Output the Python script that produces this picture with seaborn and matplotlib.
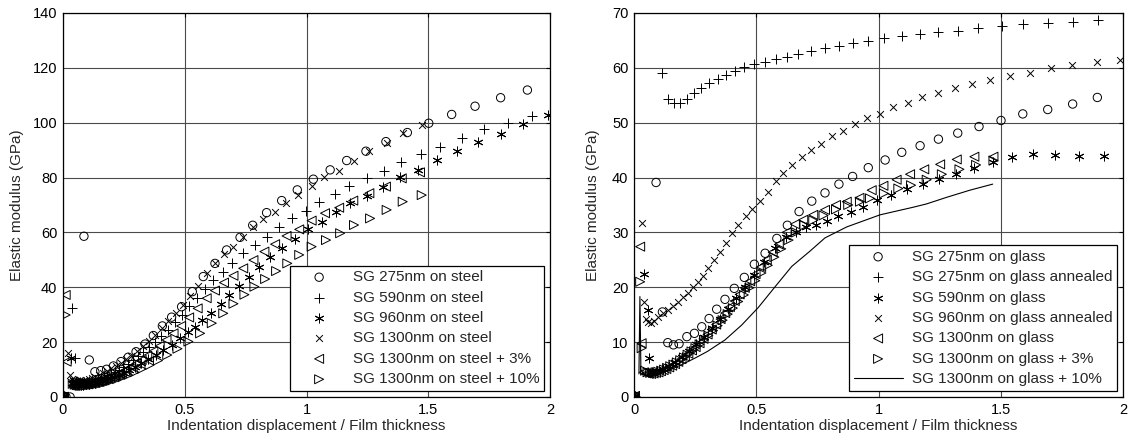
import matplotlib
matplotlib.use("Agg")
import matplotlib.pyplot as plt
import seaborn as sns

# ---------------- steel substrates (left panel) ----------------
x275s = [0.000, 0.004, 0.012, 0.029, 0.086, 0.108, 0.131, 0.155, 0.179, 0.207, 0.238, 0.268, 0.300, 0.337,
         0.371, 0.408, 0.446, 0.487, 0.531, 0.576, 0.624, 0.672, 0.727, 0.779, 0.836, 0.898, 0.962, 1.028,
         1.097, 1.165, 1.244, 1.326, 1.414, 1.502, 1.596, 1.692, 1.797, 1.907]
y275s = [0.0, 0.3, 0.1, 0.0, 58.6, 13.5, 9.2, 9.6, 10.1, 11.3, 12.9, 14.5, 16.5, 19.3,
         22.4, 25.9, 29.1, 32.9, 38.4, 43.9, 48.7, 53.6, 58.2, 62.6, 67.2, 71.6, 75.5, 79.4,
         82.8, 86.2, 89.6, 93.1, 96.4, 99.8, 103.0, 106.0, 109.1, 111.9]

x590s = [0.000, 0.006, 0.038, 0.049, 0.055, 0.062, 0.070, 0.079, 0.088, 0.098, 0.108, 0.119, 0.130, 0.142,
         0.155, 0.168, 0.182, 0.197, 0.213, 0.230, 0.248, 0.267, 0.287, 0.308, 0.330, 0.353, 0.378, 0.404,
         0.431, 0.459, 0.488, 0.518, 0.550, 0.583, 0.617, 0.658, 0.695, 0.740, 0.789, 0.836, 0.888, 0.940,
         0.998, 1.051, 1.117, 1.175, 1.247, 1.318, 1.388, 1.469, 1.548, 1.640, 1.730, 1.829, 1.925]
y590s = [0.0, 0.1, 32.6, 14.1, 6.0, 5.5, 5.3, 5.3, 5.4, 5.6, 5.8, 6.0, 6.3, 6.6,
         7.0, 7.4, 7.9, 8.5, 9.2, 10.0, 11.0, 12.1, 13.4, 14.8, 16.4, 18.1, 20.1, 22.3,
         24.6, 27.2, 30.0, 33.0, 36.2, 39.4, 42.7, 45.7, 49.0, 52.6, 55.3, 58.4, 61.9, 65.1,
         67.8, 71.2, 74.1, 76.9, 80.0, 82.4, 85.7, 88.6, 91.3, 94.5, 97.6, 99.8, 102.4]

x960s = [0.000, 0.005, 0.032, 0.037, 0.043, 0.050, 0.058, 0.066, 0.075, 0.084, 0.094, 0.105, 0.117, 0.130,
         0.144, 0.159, 0.175, 0.192, 0.210, 0.229, 0.250, 0.272, 0.296, 0.322, 0.350, 0.380, 0.412, 0.446,
         0.480, 0.515, 0.542, 0.570, 0.608, 0.648, 0.683, 0.724, 0.765, 0.806, 0.850, 0.898, 0.953, 1.005,
         1.062, 1.120, 1.179, 1.247, 1.315, 1.384, 1.459, 1.537, 1.619, 1.703, 1.797, 1.890, 1.993]
y960s = [0.0, 0.2, 14.1, 5.0, 4.7, 4.5, 4.4, 4.4, 4.4, 4.5, 4.6, 4.8, 5.0, 5.2,
         5.5, 5.9, 6.3, 6.8, 7.4, 8.1, 8.9, 9.9, 11.0, 12.3, 13.7, 15.3, 17.1, 19.0,
         21.4, 23.6, 25.6, 28.1, 30.5, 33.9, 37.2, 40.5, 43.6, 47.5, 51.1, 54.2, 57.5, 61.1,
         63.9, 67.4, 70.6, 73.3, 76.7, 80.3, 82.8, 86.4, 89.7, 93.1, 95.9, 99.5, 102.8]

x1300s = [0.000, 0.005, 0.022, 0.030, 0.036, 0.042, 0.048, 0.055, 0.063, 0.072, 0.082, 0.093, 0.105, 0.118,
          0.132, 0.147, 0.163, 0.180, 0.198, 0.217, 0.237, 0.258, 0.280, 0.303, 0.327, 0.352, 0.378, 0.405,
          0.433, 0.462, 0.492, 0.522, 0.555, 0.590, 0.624, 0.661, 0.700, 0.741, 0.782, 0.823, 0.871, 0.916,
          0.966, 1.021, 1.073, 1.135, 1.195, 1.258, 1.332, 1.395, 1.473]
y1300s = [0.0, 0.2, 15.9, 8.0, 6.6, 6.0, 5.7, 5.6, 5.6, 5.7, 5.9, 6.1, 6.5, 6.9,
          7.4, 8.0, 8.7, 9.5, 10.4, 11.4, 12.5, 13.7, 15.1, 16.7, 18.5, 20.5, 22.7, 25.1,
          27.7, 30.5, 33.5, 36.9, 40.6, 45.1, 48.7, 52.1, 54.8, 58.3, 61.9, 64.8, 67.6, 70.8,
          73.6, 76.9, 80.1, 82.5, 86.2, 89.6, 92.7, 96.1, 99.2]

x1300s3 = [0.000, 0.004, 0.011, 0.015, 0.042, 0.050, 0.058, 0.066, 0.074, 0.083, 0.092, 0.101, 0.111, 0.121,
           0.132, 0.143, 0.155, 0.168, 0.181, 0.195, 0.210, 0.226, 0.243, 0.261, 0.280, 0.301, 0.323, 0.346,
           0.371, 0.397, 0.425, 0.454, 0.485, 0.518, 0.553, 0.590, 0.624, 0.661, 0.700, 0.740, 0.782, 0.827,
           0.871, 0.918, 0.970, 1.021, 1.076, 1.134, 1.192, 1.258, 1.326, 1.391, 1.466]
y1300s3 = [0.0, 0.1, 37.2, 12.9, 5.6, 5.2, 5.0, 4.9, 4.8, 4.8, 4.9, 5.0, 5.1, 5.3,
           5.5, 5.7, 6.0, 6.4, 6.8, 7.2, 7.8, 8.4, 9.1, 10.0, 11.0, 12.2, 13.5, 15.0,
           16.7, 18.6, 20.8, 23.2, 25.9, 29.0, 32.3, 36.0, 38.8, 41.7, 44.2, 46.9, 49.9, 53.0,
           55.7, 58.7, 61.1, 64.3, 67.0, 69.0, 71.6, 74.3, 76.7, 79.7, 81.9]

x1300s10 = [0.000, 0.003, 0.011, 0.040, 0.048, 0.056, 0.064, 0.073, 0.082, 0.092, 0.102, 0.113, 0.125, 0.138,
            0.152, 0.167, 0.184, 0.202, 0.222, 0.244, 0.268, 0.294, 0.323, 0.355, 0.390, 0.428, 0.470, 0.515,
            0.563, 0.611, 0.658, 0.700, 0.745, 0.786, 0.830, 0.875, 0.921, 0.970, 1.021, 1.080, 1.138, 1.195,
            1.261, 1.329, 1.395, 1.473]
y1300s10 = [0.0, 0.2, 29.9, 4.8, 4.5, 4.3, 4.2, 4.1, 4.1, 4.1, 4.2, 4.3, 4.4, 4.6,
            4.8, 5.1, 5.5, 6.0, 6.5, 7.2, 8.0, 9.0, 10.2, 11.6, 13.3, 15.3, 17.6, 20.2,
            23.2, 26.9, 30.5, 34.0, 37.3, 40.2, 43.0, 45.9, 48.7, 51.8, 54.8, 57.2, 59.7, 62.7,
            65.1, 68.2, 71.2, 73.6]

# ---------------- glass substrates (right panel) ----------------
x275g = [0.000, 0.005, 0.090, 0.116, 0.138, 0.161, 0.184, 0.216, 0.247, 0.277, 0.307, 0.338, 0.372, 0.410,
         0.451, 0.492, 0.536, 0.584, 0.627, 0.675, 0.727, 0.781, 0.838, 0.894, 0.958, 1.027, 1.095, 1.170,
         1.245, 1.324, 1.411, 1.501, 1.590, 1.692, 1.794, 1.895]
y275g = [0.0, 0.1, 39.1, 15.5, 9.9, 9.5, 9.7, 11.0, 11.6, 12.8, 14.3, 16.0, 17.8, 19.8,
         21.8, 24.2, 26.2, 28.9, 31.3, 33.8, 35.7, 37.2, 38.8, 40.2, 41.8, 43.2, 44.6, 45.8,
         47.0, 48.1, 49.3, 50.4, 51.6, 52.4, 53.4, 54.6]

x275ga = [0.000, 0.004, 0.113, 0.138, 0.165, 0.188, 0.216, 0.247, 0.274, 0.307, 0.342, 0.376, 0.413, 0.451,
          0.492, 0.536, 0.580, 0.627, 0.672, 0.724, 0.781, 0.838, 0.897, 0.957, 1.022, 1.095, 1.170, 1.245,
          1.324, 1.408, 1.504, 1.592, 1.692, 1.794, 1.897]
y275ga = [0.0, 0.2, 59.1, 54.3, 53.5, 53.6, 54.3, 55.4, 56.3, 57.3, 57.9, 58.7, 59.4, 60.1,
          60.7, 61.1, 61.6, 62.0, 62.5, 63.1, 63.6, 63.9, 64.5, 64.9, 65.4, 65.8, 66.2, 66.5,
          66.8, 67.2, 67.6, 67.9, 68.2, 68.4, 68.7]

x590g = [0.000, 0.005, 0.042, 0.056, 0.063, 0.075, 0.095, 0.118, 0.142, 0.168, 0.195, 0.224, 0.254, 0.285,
         0.317, 0.350, 0.384, 0.419, 0.455, 0.492, 0.530, 0.575, 0.621, 0.663, 0.703, 0.744, 0.791, 0.836,
         0.886, 0.938, 0.993, 1.050, 1.115, 1.181, 1.247, 1.317, 1.391, 1.470, 1.547, 1.633, 1.722, 1.820,
         1.924]
y590g = [0.0, 0.2, 22.4, 15.9, 7.1, 4.6, 4.7, 5.1, 5.6, 6.3, 7.3, 8.4, 9.6, 11.0,
         12.6, 14.3, 16.1, 18.0, 20.1, 22.2, 24.6, 27.2, 29.1, 30.1, 30.9, 31.4, 32.1, 33.0,
         33.8, 34.7, 35.9, 36.8, 38.0, 38.9, 39.7, 40.6, 41.7, 42.9, 43.7, 44.3, 44.1, 43.9,
         43.9]

x960ga = [0.000, 0.004, 0.034, 0.042, 0.048, 0.058, 0.070, 0.083, 0.099, 0.120, 0.140, 0.161, 0.181, 0.202,
          0.222, 0.243, 0.263, 0.283, 0.304, 0.329, 0.352, 0.376, 0.400, 0.427, 0.457, 0.484, 0.515, 0.547,
          0.580, 0.611, 0.645, 0.685, 0.725, 0.765, 0.809, 0.856, 0.904, 0.952, 1.004, 1.061, 1.119, 1.179,
          1.245, 1.313, 1.384, 1.456, 1.538, 1.620, 1.704, 1.793, 1.892, 1.988]
y960ga = [0.0, 0.1, 31.8, 17.4, 14.3, 13.7, 13.5, 13.9, 14.5, 15.3, 15.9, 16.6, 17.4, 18.2,
          19.0, 20.0, 21.0, 22.1, 23.5, 25.0, 26.5, 28.1, 29.8, 31.4, 32.9, 34.3, 35.8, 37.4,
          39.3, 40.8, 42.2, 43.7, 45.0, 46.2, 47.5, 48.5, 49.8, 50.8, 51.6, 52.8, 53.6, 54.6,
          55.4, 56.3, 57.1, 57.7, 58.5, 59.1, 59.9, 60.5, 61.1, 61.5]

x1300g = [0.000, 0.004, 0.025, 0.031, 0.040, 0.050, 0.060, 0.070, 0.080, 0.090, 0.100, 0.110, 0.121, 0.132,
          0.144, 0.156, 0.168, 0.181, 0.194, 0.208, 0.222, 0.237, 0.252, 0.268, 0.284, 0.301, 0.318, 0.336,
          0.354, 0.373, 0.392, 0.412, 0.432, 0.453, 0.475, 0.497, 0.520, 0.543, 0.567, 0.592, 0.624, 0.658,
          0.692, 0.733, 0.781, 0.826, 0.870, 0.922, 0.972, 1.020, 1.074, 1.129, 1.187, 1.252, 1.320, 1.392,
          1.470]
y1300g = [0.0, 0.2, 27.4, 9.8, 4.5, 4.3, 4.2, 4.2, 4.3, 4.4, 4.5, 4.7, 4.9, 5.1,
          5.4, 5.7, 6.0, 6.4, 6.9, 7.4, 7.9, 8.5, 9.1, 9.8, 10.6, 11.4, 12.3, 13.2,
          14.2, 15.3, 16.4, 17.5, 18.7, 19.9, 21.1, 22.4, 23.7, 25.0, 26.4, 27.8, 30.0, 31.5,
          32.3, 33.2, 34.1, 35.0, 35.6, 36.3, 37.7, 38.5, 39.6, 40.6, 41.5, 42.4, 43.3, 43.8,
          43.8]

x1300g3 = [0.000, 0.004, 0.025, 0.031, 0.045, 0.055, 0.066, 0.077, 0.088, 0.099, 0.111, 0.123, 0.135, 0.148,
           0.161, 0.175, 0.189, 0.204, 0.219, 0.235, 0.251, 0.268, 0.286, 0.304, 0.323, 0.342, 0.362, 0.383,
           0.404, 0.426, 0.449, 0.472, 0.496, 0.521, 0.547, 0.574, 0.602, 0.632, 0.663, 0.697, 0.733, 0.775,
           0.826, 0.876, 0.924, 0.965, 1.022, 1.081, 1.133, 1.197, 1.259, 1.331, 1.399, 1.470]
y1300g3 = [0.0, 0.1, 21.0, 8.9, 4.8, 4.5, 4.4, 4.4, 4.5, 4.6, 4.8, 5.0, 5.3, 5.6,
           5.9, 6.3, 6.7, 7.2, 7.7, 8.3, 8.9, 9.6, 10.4, 11.2, 12.1, 13.0, 14.0, 15.1,
           16.2, 17.4, 18.6, 19.9, 21.2, 22.6, 24.0, 25.5, 27.0, 28.6, 30.0, 31.3, 32.2, 33.1,
           34.2, 35.0, 35.6, 36.2, 37.1, 38.0, 38.6, 39.6, 40.6, 41.5, 42.3, 43.1]

x1300g10 = [0.020, 0.024, 0.028, 0.040, 0.060, 0.080, 0.100, 0.150, 0.200, 0.250, 0.300, 0.372, 0.440,
            0.508, 0.577, 0.645, 0.720, 0.781, 0.870, 1.006, 1.143, 1.197, 1.279, 1.374, 1.467]
y1300g10 = [4.2, 18.3, 5.0, 4.0, 3.8, 3.9, 4.1, 5.0, 6.0, 7.1, 8.3, 10.4, 13.1,
            16.3, 20.1, 23.8, 26.6, 29.0, 31.0, 33.2, 34.6, 35.2, 36.4, 37.7, 38.8]

sns.set_style("white")
plt.rcParams["font.family"] = ["Liberation Sans", "DejaVu Sans"]

STAR = (6, 2, 0)
OPEN = dict(facecolors="none", edgecolor="black")
LINE = dict(color="black")

fig = plt.figure(figsize=(11.29, 4.44), dpi=100)
ax1 = fig.add_axes([0.0558, 0.1059, 0.4314, 0.8649])
ax2 = fig.add_axes([0.5616, 0.1059, 0.4331, 0.8649])

lw = 0.7
left_series = [
    (x275s, y275s, "o", 36, OPEN, "SG 275nm on steel"),
    (x590s, y590s, "+", 46, LINE, "SG 590nm on steel"),
    (x960s, y960s, STAR, 42, LINE, "SG 960nm on steel"),
    (x1300s, y1300s, "x", 24, LINE, "SG 1300nm on steel"),
    (x1300s3, y1300s3, "<", 42, OPEN, "SG 1300nm on steel + 3%"),
    (x1300s10, y1300s10, ">", 42, OPEN, "SG 1300nm on steel + 10%"),
]
for xs, ys, m, s, style, lab in left_series:
    sns.scatterplot(x=xs, y=ys, marker=m, s=s, linewidth=lw, label=lab, ax=ax1, **style)

right_series = [
    (x275g, y275g, "o", 36, OPEN, "SG 275nm on glass"),
    (x275ga, y275ga, "+", 46, LINE, "SG 275nm on glass annealed"),
    (x590g, y590g, STAR, 42, LINE, "SG 590nm on glass"),
    (x960ga, y960ga, "x", 24, LINE, "SG 960nm on glass annealed"),
    (x1300g, y1300g, "<", 42, OPEN, "SG 1300nm on glass"),
    (x1300g3, y1300g3, ">", 42, OPEN, "SG 1300nm on glass + 3%"),
]
for xs, ys, m, s, style, lab in right_series:
    sns.scatterplot(x=xs, y=ys, marker=m, s=s, linewidth=lw, label=lab, ax=ax2, **style)
sns.lineplot(x=x1300g10, y=y1300g10, sort=False, estimator=None, color="black", lw=0.8,
             label="SG 1300nm on glass + 10%", ax=ax2)

for ax, ymax, ystep, lab_x in [(ax1, 140, 20, -0.080), (ax2, 70, 10, -0.0695)]:
    ax.set_xlim(0, 2)
    ax.set_ylim(0, ymax)
    ax.set_xticks([0, 0.5, 1, 1.5, 2])
    ax.set_xticklabels(["0", "0.5", "1", "1.5", "2"])
    ax.set_yticks(range(0, ymax + 1, ystep))
    ax.set_axisbelow(True)
    ax.grid(True, color="#4a4a4a", lw=0.8)
    for sp in ax.spines.values():
        sp.set_color("black")
        sp.set_linewidth(0.9)
    ax.tick_params(direction="in", length=3, width=0.8, labelsize=10.5, pad=4,
                   top=True, right=True, colors="black")
    ax.set_xlabel("Indentation displacement / Film thickness", fontsize=11, labelpad=2)
    ax.set_ylabel("Elastic modulus (GPa)", fontsize=11)
    ax.yaxis.set_label_coords(lab_x, 0.5)
    ax.legend(loc="lower right", frameon=True, fancybox=False, edgecolor="black",
              framealpha=1, fontsize=11, scatterpoints=1, handlelength=3.2,
              handletextpad=0.6, labelspacing=0.42, borderpad=0.3, borderaxespad=0.4)
    ax.get_legend().get_frame().set_linewidth(0.9)

fig.savefig("out.png", dpi=100)
